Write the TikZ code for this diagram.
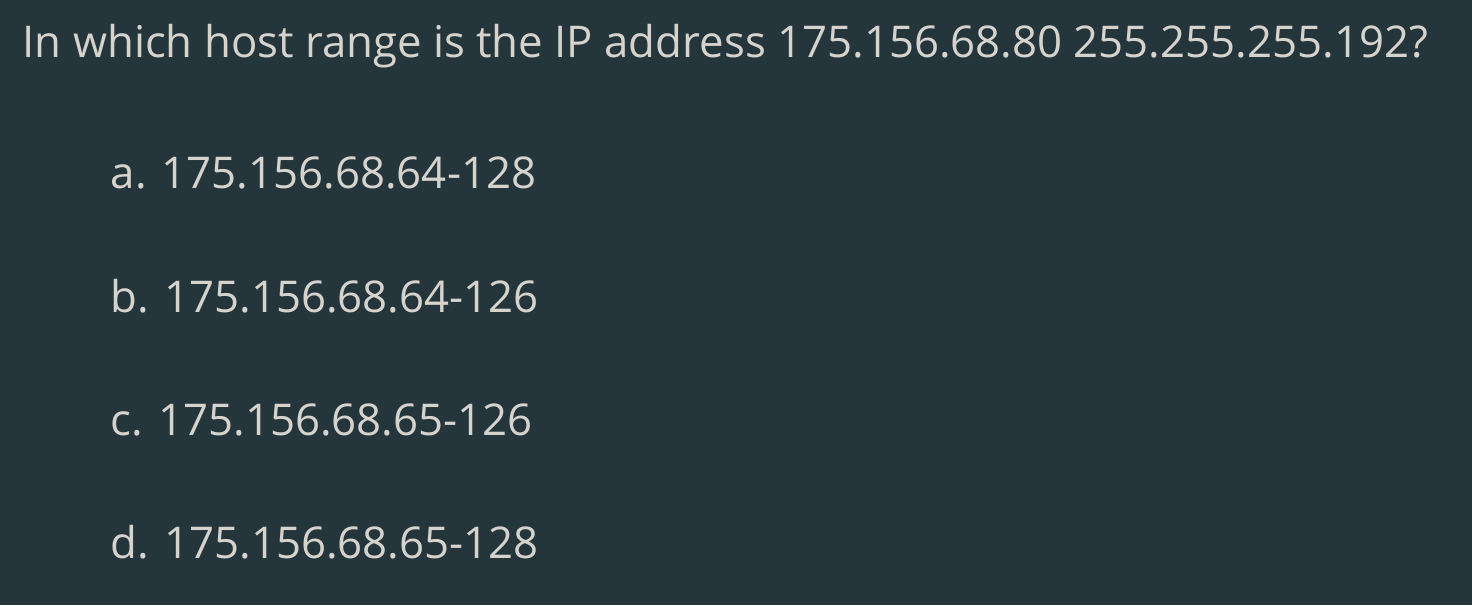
\documentclass[tikz,border=0pt]{standalone}
\usepackage{fontspec}
\setmainfont{Open Sans}
\usepackage{xcolor}
\definecolor{bgteal}{HTML}{24363C}
\definecolor{txtgray}{HTML}{D6D2CC}
\usetikzlibrary{positioning}

\begin{document}
\begin{tikzpicture}[
    question/.style={anchor=base west, inner sep=0pt, text=txtgray, font=\fontsize{12.45pt}{15pt}\selectfont},
    choice/.style={anchor=base west, inner sep=0pt, text=txtgray, font=\fontsize{12.45pt}{15pt}\selectfont}
]
                % Background
                \fill[bgteal] (0, 0) rectangle (14.72, -6.05);
                \useasboundingbox (0, 0) rectangle (14.72, -6.05);

                % Question
                \node[question] (q) at (0.22, -0.57) {In which host range is the IP address 175.156.68.80 255.255.255.192?};

                % Answer choices
                \node[choice] (a) at (1.10, -1.88) {a. 175.156.68.64-128};
                \node[choice] (b) at (1.10, -3.12) {b. 175.156.68.64-126};
                \node[choice] (c) at (1.10, -4.35) {c. 175.156.68.65-126};
                \node[choice] (d) at (1.10, -5.58) {d. 175.156.68.65-128};
            \end{tikzpicture}
\end{document}
